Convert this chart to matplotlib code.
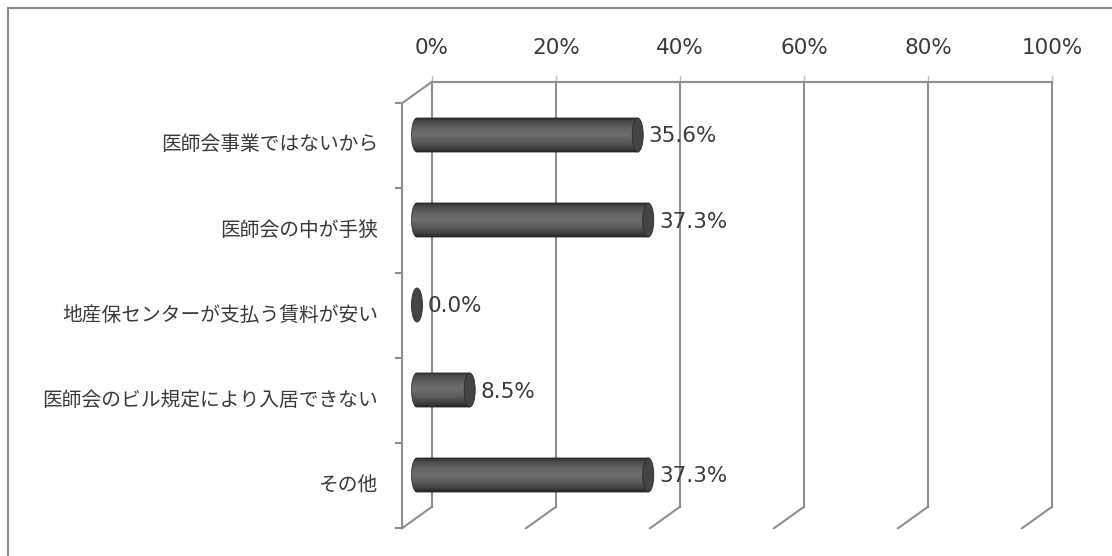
import numpy as np
import matplotlib
matplotlib.use("Agg")
import matplotlib.pyplot as plt
from matplotlib.patches import Ellipse, PathPatch
from matplotlib.path import Path
from matplotlib.colors import LinearSegmentedColormap
from matplotlib.lines import Line2D

categories = ["医師会事業ではないから", "医師会の中が手狭", "地産保センターが支払う賃料が安い",
              "医師会のビル規定により入居できない", "その他"]
values = [35.6, 37.3, 0.0, 8.5, 37.3]
ticks = [0, 20, 40, 60, 80, 100]

plt.rcParams['font.family'] = ['Noto Sans CJK JP', 'DejaVu Sans']

W, H = 1112, 556
fig = plt.figure(figsize=(W / 100, H / 100), dpi=100)
fig.patch.set_facecolor('white')

# middle depth plane of the 3D box, in pixels (0% at x0, 100% at x100)
x0, x100, top, bottom = 417, 1037, 92.5, 517.5
px_x = (x100 - x0) / 100.0               # pixels per percent
xmin = -4                                # small margin so the rounded bar ends are not clipped
left = x0 + xmin * px_x
ax = fig.add_axes([left / W, 1 - bottom / H, (x100 - left) / W, (bottom - top) / H])
ax.axis('off')

px_y = (bottom - top) / len(categories)  # pixels per category
DX = 15 / px_x                           # depth offset in data units
DY = 10.75 / px_y

grid_c = '#8e8e8e'
lw = 1.5
n = len(categories)
y0, y1 = -0.5, n - 0.5

# back wall
for t in ticks:
    ax.plot([t + DX, t + DX], [y0 - DY, y1 - DY], color=grid_c, lw=lw, clip_on=False)
    ax.plot([t + DX, t - DX], [y1 - DY, y1 + DY], color=grid_c, lw=lw, clip_on=False)
    ax.plot([t + DX, t + DX], [y0 - DY, y0 - DY - 6 / px_y], color='#c0c0c0', lw=1, clip_on=False)
    ax.text(t + DX, y0 - DY - 34 / px_y, f"{t}%", ha='center', va='center',
            fontsize=15.5, color='#3a3a3a', family='DejaVu Sans')
ax.plot([DX, 100 + DX], [y0 - DY, y0 - DY], color=grid_c, lw=lw, clip_on=False)

# front left axis with ticks
ax.plot([-DX, -DX], [y0 + DY, y1 + DY], color=grid_c, lw=lw, clip_on=False)
ax.plot([-DX, DX], [y0 + DY, y0 - DY], color=grid_c, lw=lw, clip_on=False)
for k in range(n + 1):
    yy = k - 0.5 + DY
    ax.plot([-DX, -DX - 6 / px_x], [yy, yy], color=grid_c, lw=lw, clip_on=False)

# cylinders
stops = [(0.0, '#262626'), (0.08, '#474747'), (0.3, '#626262'), (0.48, '#6e6e6e'),
         (0.7, '#5c5c5c'), (0.9, '#3e3e3e'), (1.0, '#222222')]
cmap = LinearSegmentedColormap.from_list('cyl', stops)
grad = np.linspace(0, 1, 128)[:, None]
h = 0.4
a = 5.5 / px_x

for i, v in enumerate(values):
    yt, yb = i - h / 2, i + h / 2
    if v > 0:
        t = np.linspace(np.pi / 2, 3 * np.pi / 2, 60)
        ell = np.column_stack([a * np.cos(t), i + (h / 2) * np.sin(t)])
        verts = np.vstack([ell, [[v, yt], [v, yb], [0, yb]]])
        codes = [Path.MOVETO] + [Path.LINETO] * (len(verts) - 2) + [Path.CLOSEPOLY]
        body = Path(verts, codes)
        clip = PathPatch(body, transform=ax.transData, fc='none', ec='none')
        ax.add_patch(clip)
        im = ax.imshow(grad, cmap=cmap, extent=(-a, v, yb, yt), aspect='auto',
                       interpolation='bilinear', zorder=3)
        im.set_clip_path(clip)
        ax.add_patch(PathPatch(body, fc='none', ec='#2e2e2e', lw=0.6, zorder=4, clip_on=False))
    ax.add_patch(Ellipse((v, i), 2 * a, h, fc='#444444', ec='#2a2a2a', lw=0.6, zorder=5,
                         clip_on=False))
    ax.text(v + 11 / px_x, i + 1.5 / px_y, f"{v:.1f}%", ha='left', va='center',
            fontsize=15.5, color='#3a3a3a', family='DejaVu Sans', zorder=6)

# category labels, aligned to the front plane
for i, c in enumerate(categories):
    ax.text(-39 / px_x, i + DY, c, ha='right', va='center', fontsize=14.2, color='#3a3a3a')

ax.set_xlim(xmin, 100)
ax.set_ylim(y1, y0)

# chart frame
fig.add_artist(Line2D([7.5 / W, 1], [1 - 7.5 / H, 1 - 7.5 / H], transform=fig.transFigure,
                      color='#8a8a8a', lw=1.5))
fig.add_artist(Line2D([7.5 / W, 7.5 / W], [0, 1 - 7.5 / H], transform=fig.transFigure,
                      color='#8a8a8a', lw=1.5))

fig.savefig('out.png', dpi=100)
